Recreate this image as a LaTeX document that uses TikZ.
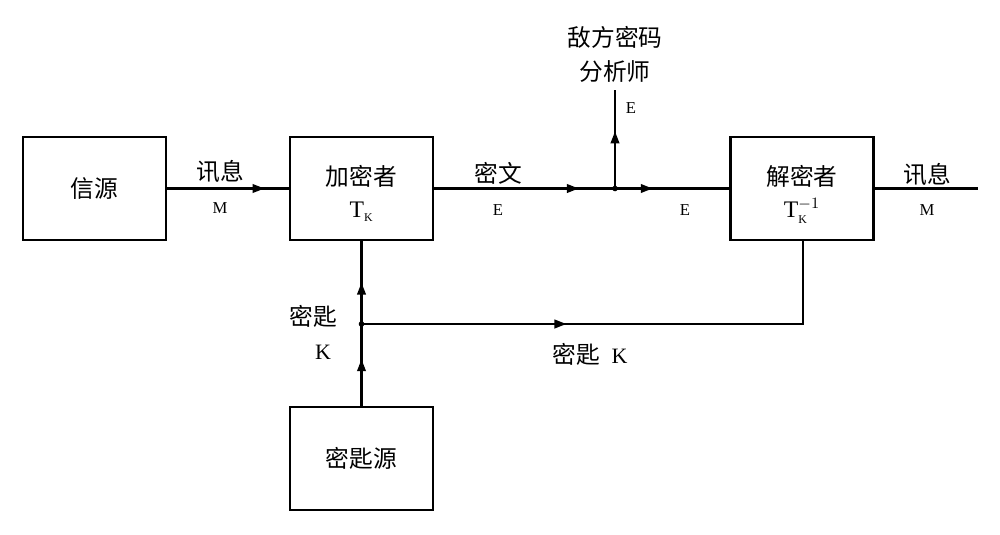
\documentclass[tikz,border=0pt]{standalone}
\usepackage{fontspec}
\setmainfont{Liberation Serif}
\newfontfamily\cjk{Noto Sans CJK SC}
\usetikzlibrary{arrows.meta,decorations.markings}

\tikzset{
  block/.style={draw,line width=1.3pt,minimum width=2.86cm,minimum height=2.06cm,
    inner sep=0pt,align=center,font=\cjk\fontsize{13.5}{17}\selectfont},
  lbl/.style={inner sep=0pt,font=\cjk\fontsize{13.5}{16}\selectfont},
  sym/.style={inner sep=0pt,font=\fontsize{9.5}{11}\selectfont},
  bigsym/.style={inner sep=0pt,font=\fontsize{12.5}{14}\selectfont},
  wire/.style={line width=1.3pt},
  midarrow/.style={postaction={decorate},decoration={markings,
    mark=at position #1 with {\arrow{Triangle[length=2.4mm,width=1.7mm]}}}},
}
\newcommand{\twolines}[2]{\raisebox{-0.14cm}[\height][\depth]{\begin{tabular}{@{}c@{}}#1\\[1pt]#2\end{tabular}}}

\begin{document}
\begin{tikzpicture}[x=0.02cm,y=-0.02cm]
  \useasboundingbox (0,0) rectangle (1000,534);
  % blocks
  \node[block] (src) at (94.5,188.5) {信源};
  \node[block] (enc) at (361.5,188.5) {\twolines{加密者}{$\mathrm{T}_{\scriptscriptstyle\mathrm{K}}$}};
  \node[block] (dec) at (802,188.5) {\twolines{解密者}{$\mathrm{T}^{-1}_{\scriptscriptstyle\mathrm{K}}$}};
  \node[block] (keysrc) at (361.5,458.5) {密匙源};
  \coordinate (tap) at (615,188.5);
  \coordinate (spy) at (615,90);
  \coordinate (out) at (978,188.5);
  \coordinate (keyj) at (361.5,324);
  \coordinate (keyc) at (803,324);
  % connectors
  \draw[wire,midarrow=0.8] (src) -- (enc);
  \draw[wire,midarrow=0.8] (enc) -- (tap);
  \draw[wire,midarrow=0.33] (tap) -- (dec);
  \draw[wire,midarrow=0.58] (tap) -- (spy);
  \draw[wire] (dec) -- (out);
  \draw[wire,midarrow=0.57] (keysrc) -- (keyj);
  \draw[wire,midarrow=0.5] (keyj) -- (enc);
  \draw[wire,midarrow=4.1cm] (keyj) -- (keyc) -- (keyc |- dec.south);
  \fill (tap) circle[radius=1.6pt];
  \fill (keyj) circle[radius=1.6pt];
  % labels
  \node[lbl] (msgin) at (220,172) {讯息};
  \node[sym] (msginM) at (220,208) {M};
  \node[lbl] (ctext) at (498,173) {密文};
  \node[sym] (ctextE) at (498,210) {E};
  \node[sym] (tapE) at (685,210) {E};
  \node[lbl] (spyA) at (615,37) {敌方密码};
  \node[lbl] (spyB) at (615,72) {分析师};
  \node[sym] (spyE) at (631,108) {E};
  \node[lbl] (msgout) at (927,175) {讯息};
  \node[sym] (msgoutM) at (927,210) {M};
  \node[lbl] (keyA) at (313,316) {密匙};
  \node[bigsym] (keyAK) at (323,352) {K};
  \node[lbl] (keyB) at (590,354) {密匙\hspace{0.5em}{\rmfamily\fontsize{12.5}{14}\selectfont K}};
\end{tikzpicture}
\end{document}
